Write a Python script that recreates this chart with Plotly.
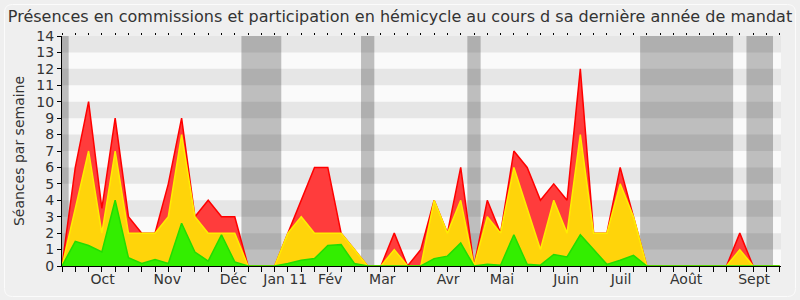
import plotly.graph_objects as go

# ---- data (weekly values, week index 0..54) ----
weeks = list(range(55))
red = [0, 6, 10, 3.5, 9, 3, 2, 2, 5, 9, 3, 4, 3, 3, 0,
       0, 0, 2, 4, 6, 6, 2, 1, 0, 0, 2, 0, 1, 4, 2,
       6, 0, 4, 2, 7, 6, 4, 5, 4, 12, 2, 2, 6, 3, 0,
       0, 0, 0, 0, 0, 0, 2, 0, 0, 0]
yellow = [0, 3.5, 7, 2, 7, 2, 2, 2, 3, 8, 3, 2, 2, 2, 0,
          0, 0, 2, 3, 2, 2, 2, 1, 0, 0, 1, 0, 0, 4, 2,
          4, 0, 3, 2, 6, 3.5, 1, 4, 2, 8, 2, 2, 5, 3, 0,
          0, 0, 0, 0, 0, 0, 1, 0, 0, 0]
green = [0, 1.5, 1.25, 0.85, 4, 0.5, 0.15, 0.4, 0.15, 2.6, 0.85, 0.3, 1.9, 0.25, 0,
         0, 0, 0.15, 0.35, 0.45, 1.25, 1.3, 0.15, 0, 0, 0, 0, 0, 0.45, 0.6,
         1.4, 0, 0.1, 0.05, 1.9, 0.1, 0.05, 0.7, 0.55, 1.9, 1.0, 0.1, 0.35, 0.65, 0,
         0, 0, 0, 0, 0, 0, 0, 0, 0, 0]
month_labels = ["Oct", "Nov", "Déc", "Jan 11", "Fév", "Mar", "Avr", "Mai",
                "Juin", "Juil", "Août", "Sept"]
month_pos = [3.06, 7.92, 12.89, 16.8, 20.18, 24.1, 29.06, 33.1,
             37.93, 42.07, 46.96, 52.08]
holidays = [(-0.5, 0.5), (13.5, 16.5), (22.5, 23.5), (30.5, 31.5),
            (43.5, 50.5), (51.5, 53.5)]
y_max = 14
x_max = 54.1

title = "Présences en commissions et participation en hémicycle au cours d sa dernière année de mandat"
ytitle = "Séances par semaine"

FONT = "DejaVu Sans"
TXT = "#333333"

# plot area in pixels
W, H = 800, 300
L, R, T, B = 62, 781, 36, 266

fig = go.Figure()

series = [
    (red, "#ff3c3c", "#ff0000"),
    (yellow, "#ffd40a", "#ffee00"),
    (green, "#33ee00", "#22dd00"),
]
for vals, fillc, linec in series:
    fig.add_trace(go.Scatter(
        x=weeks, y=vals, mode="lines", fill="tozeroy",
        fillcolor=fillc, line=dict(color=linec, width=1.5),
        hoverinfo="skip", showlegend=False))

shapes = []
# horizontal stripes
for k in range(1, y_max, 2):
    shapes.append(dict(type="rect", xref="x", yref="y", x0=0, x1=x_max,
                       y0=k, y1=k + 1, fillcolor="#e6e6e6",
                       line=dict(width=0), layer="below"))
# holiday bands
for a, b in holidays:
    shapes.append(dict(type="rect", xref="x", yref="y", x0=max(a, 0),
                       x1=min(b, x_max), y0=0, y1=y_max,
                       fillcolor="rgba(0,0,0,0.24)",
                       line=dict(width=0), layer="below"))

# rounded outer frame (pixels -> paper)
def px(xp):
    return (xp - L) / (R - L)

def py(yp):
    return (B - yp) / (B - T)

x0p, x1p, y0p, y1p, rr = 4.5, 795.5, 4.5, 296.5, 8
path = (f"M {px(x0p+rr)},{py(y0p)} L {px(x1p-rr)},{py(y0p)} "
        f"Q {px(x1p)},{py(y0p)} {px(x1p)},{py(y0p+rr)} "
        f"L {px(x1p)},{py(y1p-rr)} Q {px(x1p)},{py(y1p)} {px(x1p-rr)},{py(y1p)} "
        f"L {px(x0p+rr)},{py(y1p)} Q {px(x0p)},{py(y1p)} {px(x0p)},{py(y1p-rr)} "
        f"L {px(x0p)},{py(y0p+rr)} Q {px(x0p)},{py(y0p)} {px(x0p+rr)},{py(y0p)} Z")
shapes.append(dict(type="path", xref="paper", yref="paper", path=path,
                   line=dict(color="#fbfbfb", width=1), layer="below"))

fig.update_layout(
    width=W, height=H,
    margin=dict(l=L, r=W - R, t=T, b=H - B, pad=0),
    paper_bgcolor="#efefef", plot_bgcolor="#fafafa",
    font=dict(family=FONT, size=14, color=TXT),
    title=dict(text=title, x=0.5, xanchor="center", xref="container",
               y=1 - 16 / H, yanchor="middle", yref="container",
               font=dict(family=FONT, size=16, color=TXT)),
    shapes=shapes,
    xaxis=dict(range=[0, x_max], showgrid=False, zeroline=False,
               showline=True, linecolor="#000000", linewidth=1,
               tickmode="array", tickvals=month_pos, ticktext=month_labels,
               ticks="", tickfont=dict(family=FONT, size=14, color=TXT),
               minor=dict(tickmode="array", tickvals=weeks, ticks="outside",
                          ticklen=5, tickcolor="#000000", tickwidth=1,
                          showgrid=False),
               fixedrange=True),
    xaxis2=dict(range=[0, x_max], overlaying="x", side="top",
                showgrid=False, zeroline=False, showline=False,
                tickmode="array", tickvals=weeks, ticks="outside",
                ticklen=2, tickcolor="#000000", showticklabels=False),
    yaxis=dict(range=[0, y_max], showgrid=False, zeroline=False,
               showline=True, linecolor="#000000", linewidth=1,
               tickmode="array", tickvals=list(range(0, y_max + 1)),
               ticks="outside", ticklen=4, tickcolor="#000000",
               tickfont=dict(family=FONT, size=14, color=TXT),
               title=dict(text=ytitle, standoff=8,
                          font=dict(family=FONT, size=14, color=TXT)),
               fixedrange=True),
)
# invisible trace so the top axis is drawn
fig.add_trace(go.Scatter(x=[0], y=[0], xaxis="x2", mode="markers",
                         marker=dict(opacity=0), hoverinfo="skip",
                         showlegend=False))

fig.write_html("out.html")
